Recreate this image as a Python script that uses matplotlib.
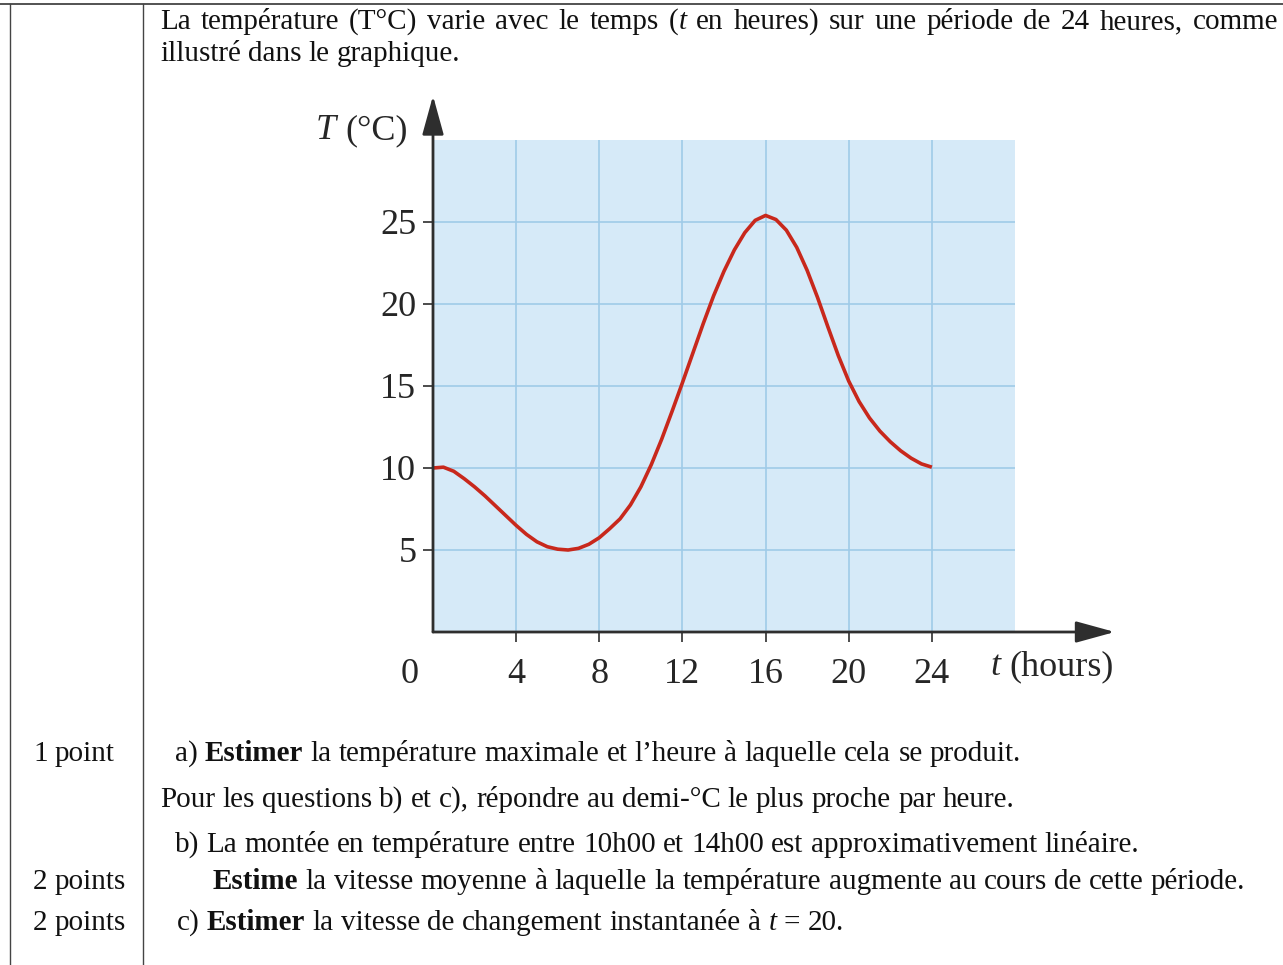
import re
import matplotlib
matplotlib.use('Agg')
import matplotlib.pyplot as plt

W, H = 1283, 965

# ---------------- data ----------------
hours = [0, 0.5, 1, 1.5, 2, 2.5, 3, 3.5, 4, 4.5, 5, 5.5, 6, 6.5, 7, 7.5, 8, 8.5,
         9, 9.5, 10, 10.5, 11, 11.5, 12, 12.5, 13, 13.5, 14, 14.5, 15, 15.5, 16,
         16.5, 17, 17.5, 18, 18.5, 19, 19.5, 20, 20.5, 21, 21.5, 22, 22.5, 23,
         23.5, 24]
temperature = [10.0, 10.05, 9.8, 9.35, 8.85, 8.3, 7.7, 7.1, 6.5, 5.95, 5.5, 5.2,
               5.05, 5.0, 5.1, 5.35, 5.75, 6.3, 6.9, 7.75, 8.85, 10.2, 11.75, 13.45,
               15.2, 17.0, 18.8, 20.5, 22.0, 23.3, 24.35, 25.1, 25.4, 25.15, 24.5,
               23.45, 22.05, 20.4, 18.6, 16.85, 15.3, 14.05, 13.05, 12.25, 11.6,
               11.05, 10.6, 10.25, 10.05]
x_ticks = [4, 8, 12, 16, 20, 24]
y_ticks = [5, 10, 15, 20, 25]
x_tick_labels = ['4', '8', '12', '16', '20', '24']
y_tick_labels = ['5', '10', '15', '20', '25']

SERIF = 'Liberation Serif'
DOC = 21

fig = plt.figure(figsize=(W / 100, H / 100), dpi=100)
ov = fig.add_axes([0, 0, 1, 1])
ov.set_xlim(0, W)
ov.set_ylim(H, 0)
ov.axis('off')
renderer = fig.canvas.get_renderer()

STY = {'n': {}, 'b': {'weight': 'bold'}, 'i': {'style': 'italic'}}


def measure(s, size, st):
    t = ov.text(0, 0, s, fontsize=size, family=SERIF, **STY[st])
    w = t.get_window_extent(renderer).width
    t.remove()
    return w


def parse_word(w):
    segs = []
    for m in re.finditer(r'\*\*(.+?)\*\*|\*(.+?)\*|([^*]+)', w):
        if m.group(1):
            segs.append((m.group(1), 'b'))
        elif m.group(2):
            segs.append((m.group(2), 'i'))
        else:
            segs.append((m.group(3), 'n'))
    return segs


def draw_line(x, y, markup, size=DOC, right=None, color='#111111'):
    words = [parse_word(w) for w in markup.split(' ')]
    widths = [[measure(s, size, st) for s, st in w] for w in words]
    tot = sum(sum(ws) for ws in widths)
    if right is not None and len(words) > 1:
        gap = (right - x - tot) / (len(words) - 1)
    else:
        gap = measure('a a', size, 'n') - measure('aa', size, 'n')
    cx = x
    for w, ws in zip(words, widths):
        for (s, st), sw in zip(w, ws):
            ov.text(cx, y, s, fontsize=size, family=SERIF, va='baseline',
                    ha='left', color=color, **STY[st])
            cx += sw
        cx += gap


# ---------------- table lines ----------------
ov.plot([0, W], [4, 4], color='#444444', lw=1.3)
ov.plot([10, 10], [4, H], color='#444444', lw=1.0)
ov.plot([143, 143], [4, H], color='#444444', lw=1.0)

# ---------------- document text ----------------
draw_line(160, 29, 'La température (T°C) varie avec le temps (*t* en heures) sur une période de 24 heures, comme', right=1278)
draw_line(160, 61, 'illustré dans le graphique.')
draw_line(33, 761, '1 point')
draw_line(175, 761, 'a) **Estimer** la température maximale et l’heure à laquelle cela se produit.')
draw_line(160, 807, 'Pour les questions b) et c), répondre au demi-°C le plus proche par heure.')
draw_line(175, 852, 'b) La montée en température entre 10h00 et 14h00 est approximativement linéaire.')
draw_line(33, 889, '2 points')
draw_line(213, 889, '**Estime** la vitesse moyenne à laquelle la température augmente au cours de cette période.')
draw_line(33, 930, '2 points')
draw_line(177, 930, 'c) **Estimer** la vitesse de changement instantanée à *t* = 20.')

# ---------------- chart ----------------
x0, x1, ytop, ybot = 433, 1015, 140, 632
ax = fig.add_axes([x0 / W, 1 - ybot / H, (x1 - x0) / W, (ybot - ytop) / H])
ax.set_xlim(0, 28)
ax.set_ylim(0, 30)
ax.set_facecolor('#d6eaf8')
for s in ax.spines.values():
    s.set_visible(False)

grid_c = '#9fcbe8'
for xv in x_ticks:
    ax.axvline(xv, color=grid_c, lw=1.2, zorder=1)
for yv in y_ticks:
    ax.axhline(yv, color=grid_c, lw=1.2, zorder=1)

ax.plot(hours, temperature, color='#c8281c', lw=2.6, zorder=3,
        solid_capstyle='butt', solid_joinstyle='round')

axis_c = '#2e2e2e'
ap = dict(arrowstyle='-|>,head_length=0.8,head_width=0.22', color=axis_c,
          lw=2.0, mutation_scale=30, shrinkA=0, shrinkB=0)
ax.annotate('', xy=(0, 32.7), xytext=(0, 0), arrowprops=ap,
            annotation_clip=False, zorder=4)
ax.annotate('', xy=(32.8, 0), xytext=(0, 0), arrowprops=ap,
            annotation_clip=False, zorder=4)

ax.set_xticks(x_ticks)
ax.set_xticklabels(x_tick_labels)
ax.set_yticks(y_ticks)
ax.set_yticklabels(y_tick_labels)
ax.tick_params(axis='both', direction='out', length=7, width=1.2,
               color=axis_c, labelcolor='#262626')
ax.tick_params(axis='x', pad=12)
ax.tick_params(axis='y', pad=5)
for lab in ax.get_xticklabels() + ax.get_yticklabels():
    lab.set_family(SERIF)
    lab.set_fontsize(26)

draw_line(316, 139, '*T* (°C)', size=26, color='#262626')
draw_line(990, 675, '*t* (hours)', size=26, color='#262626')
ov.text(410, 683, '0', fontsize=26, family=SERIF, ha='center',
        va='baseline', color='#262626')

fig.savefig('out.png', dpi=100)
